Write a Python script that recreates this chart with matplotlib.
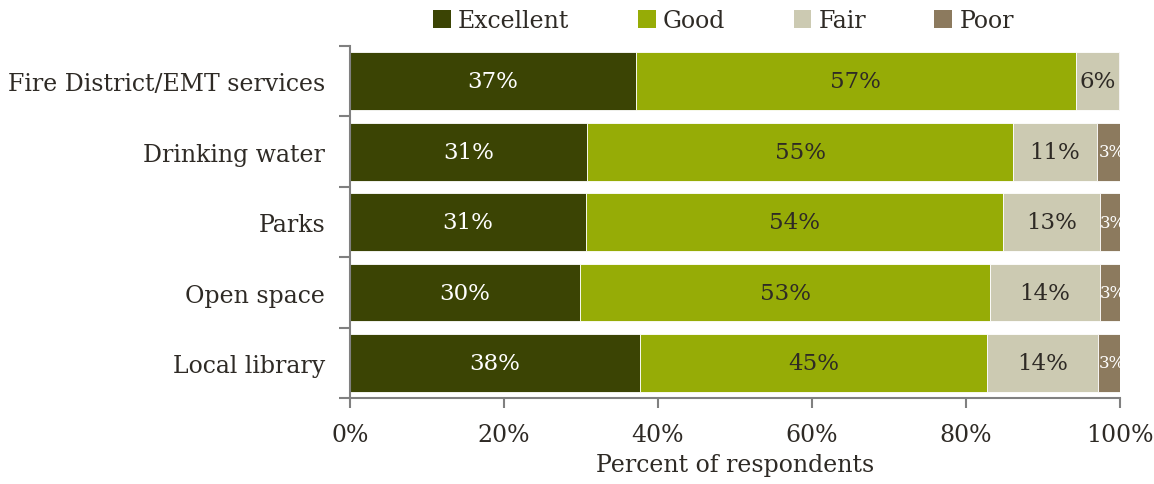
import numpy as np
import matplotlib.pyplot as plt
from matplotlib.patches import Patch

categories = ["Fire District/EMT services", "Drinking water", "Parks",
              "Open space", "Local library"]
excellent = [37.1, 30.8, 30.6, 29.9, 37.7]
good = [57.2, 55.3, 54.2, 53.2, 45.0]
fair = [5.6, 10.9, 12.6, 14.3, 14.4]
poor = [0.1, 3.0, 2.6, 2.6, 2.9]
series = ["Excellent", "Good", "Fair", "Poor"]
colors = ["#3b4404", "#96ac06", "#cccab2", "#8c7a5e"]
label_colors = ["white", "#2e2a25", "#2e2a25", "white"]

plt.rcParams['font.family'] = ['DejaVu Serif']
text_color = "#2e2a25"

fig = plt.figure(figsize=(11.54, 4.85), dpi=100)
ax = fig.add_axes([0.3033, 0.177, 0.6672, 0.726])

y = np.arange(len(categories))
left = np.zeros(len(categories))
for name, vals, col, lcol in zip(series, [excellent, good, fair, poor], colors, label_colors):
    vals = np.array(vals)
    ax.barh(y, vals, left=left, height=0.82, color=col, edgecolor="white", linewidth=0.6)
    for yi, l, v in zip(y, left, vals):
        if v < 1:
            continue
        small = v < 4
        ax.text(l + v / 2 + (0.4 if small else 0), yi, f"{v:.0f}%", ha="center", va="center",
                color=lcol, fontsize=12 if small else 16.5, clip_on=True)
    left += vals

ax.set_xlim(0, 100)
ax.set_ylim(len(categories) - 0.5, -0.5)
ax.set_xticks(np.arange(0, 101, 20))
ax.set_xticklabels([f"{t}%" for t in range(0, 101, 20)], fontsize=17, color=text_color)
ax.set_yticks(y)
ax.set_yticklabels(categories, fontsize=17, color=text_color)
ax.tick_params(axis="y", length=0, pad=18)
ax.set_yticks(np.arange(-0.5, len(categories)), minor=True)
ax.tick_params(axis="y", which="minor", length=8, color="#808080", width=1.5)
ax.tick_params(axis="x", length=7, color="#808080", width=1.5, pad=11)
ax.set_xlabel("Percent of respondents", fontsize=17, color=text_color, labelpad=5)

for s in ["top", "right"]:
    ax.spines[s].set_visible(False)
for s in ["left", "bottom"]:
    ax.spines[s].set_color("#808080")
    ax.spines[s].set_linewidth(1.5)

handles = [Patch(facecolor=c, edgecolor="none") for c in colors]
fig.legend(handles, series, loc="center", bbox_to_anchor=(0.627, 0.955), ncol=4,
           frameon=False, fontsize=17, handlelength=0.75, handleheight=0.75,
           handletextpad=0.3, columnspacing=2.9, labelcolor=text_color)

fig.savefig("out.png", dpi=100)
